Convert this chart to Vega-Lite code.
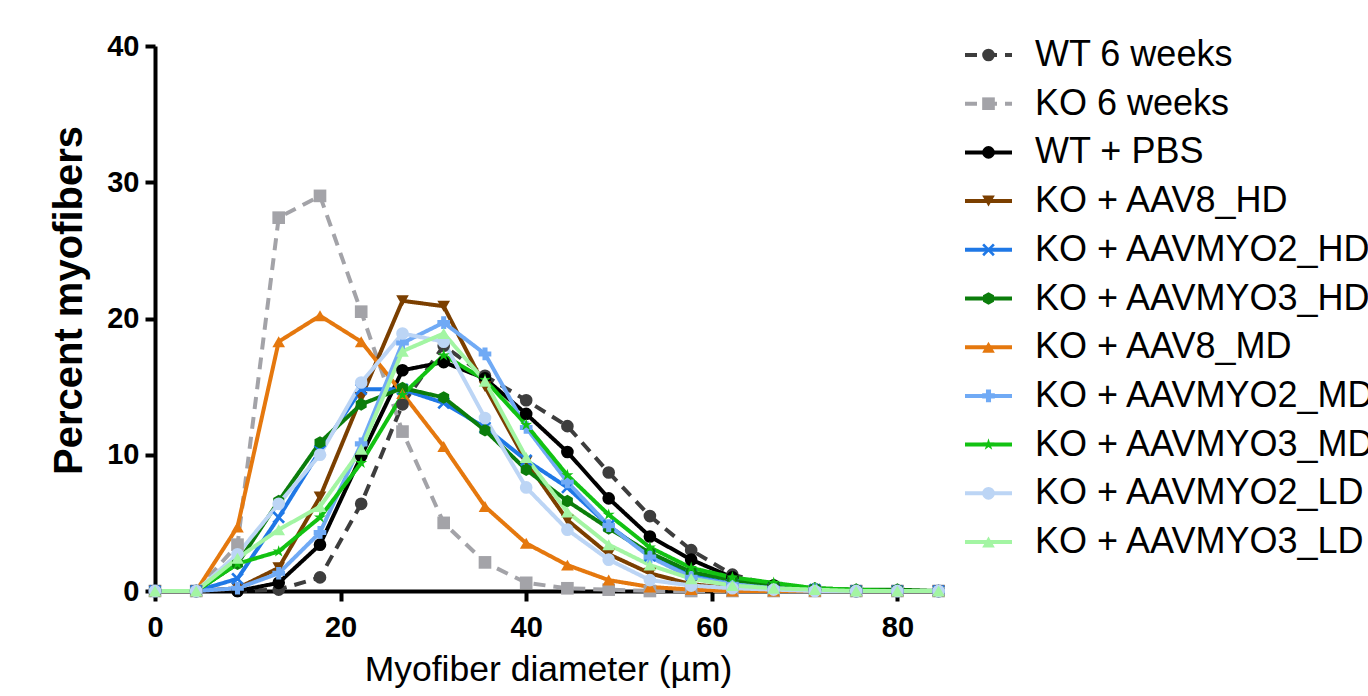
{
  "$schema": "https://vega.github.io/schema/vega-lite/v6.json",
  "width": 786,
  "height": 545,
  "autosize": {"type": "none"},
  "padding": {"left": 155, "top": 46, "right": 427, "bottom": 105},
  "background": "white",
  "config": {
    "view": {"stroke": null},
    "font": "Liberation Sans",
    "axis": {
      "grid": false,
      "domainColor": "black",
      "domainWidth": 4,
      "tickColor": "black",
      "tickWidth": 4,
      "tickSize": 10,
      "labelFlush": false,
      "labelFont": "Liberation Sans",
      "labelFontSize": 29,
      "labelFontWeight": "bold",
      "labelColor": "black",
      "titleFont": "Liberation Sans",
      "titleColor": "black"
    }
  },
  "data": {
    "values": [
      {"x": 0, "WT 6 weeks": 0, "KO 6 weeks": 0, "WT + PBS": 0, "KO + AAV8_HD": 0, "KO + AAVMYO2_HD": 0, "KO + AAVMYO3_HD": 0, "KO + AAV8_MD": 0, "KO + AAVMYO2_MD": 0, "KO + AAVMYO3_MD": 0, "KO + AAVMYO2_LD": 0, "KO + AAVMYO3_LD": 0},
      {"x": 4.44, "WT 6 weeks": 0, "KO 6 weeks": 0, "WT + PBS": 0, "KO + AAV8_HD": 0, "KO + AAVMYO2_HD": 0, "KO + AAVMYO3_HD": 0, "KO + AAV8_MD": 0, "KO + AAVMYO2_MD": 0, "KO + AAVMYO3_MD": 0, "KO + AAVMYO2_LD": 0, "KO + AAVMYO3_LD": 0},
      {"x": 8.89, "WT 6 weeks": 0, "KO 6 weeks": 3.4, "WT + PBS": 0, "KO + AAV8_HD": 0.2, "KO + AAVMYO2_HD": 0.9, "KO + AAVMYO3_HD": 2.0, "KO + AAV8_MD": 4.7, "KO + AAVMYO2_MD": 0.2, "KO + AAVMYO3_MD": 2.0, "KO + AAVMYO2_LD": 2.7, "KO + AAVMYO3_LD": 2.4},
      {"x": 13.33, "WT 6 weeks": 0.1, "KO 6 weeks": 27.4, "WT + PBS": 0.6, "KO + AAV8_HD": 1.7, "KO + AAVMYO2_HD": 5.4, "KO + AAVMYO3_HD": 6.6, "KO + AAV8_MD": 18.3, "KO + AAVMYO2_MD": 1.3, "KO + AAVMYO3_MD": 2.9, "KO + AAVMYO2_LD": 6.4, "KO + AAVMYO3_LD": 4.5},
      {"x": 17.78, "WT 6 weeks": 1.0, "KO 6 weeks": 29.0, "WT + PBS": 3.4, "KO + AAV8_HD": 6.9, "KO + AAVMYO2_HD": 10.3, "KO + AAVMYO3_HD": 10.9, "KO + AAV8_MD": 20.2, "KO + AAVMYO2_MD": 4.3, "KO + AAVMYO3_MD": 5.4, "KO + AAVMYO2_LD": 10.0, "KO + AAVMYO3_LD": 6.2},
      {"x": 22.22, "WT 6 weeks": 6.4, "KO 6 weeks": 20.5, "WT + PBS": 9.9, "KO + AAV8_HD": 14.2, "KO + AAVMYO2_HD": 14.8, "KO + AAVMYO3_HD": 13.7, "KO + AAV8_MD": 18.3, "KO + AAVMYO2_MD": 10.8, "KO + AAVMYO3_MD": 9.4, "KO + AAVMYO2_LD": 15.3, "KO + AAVMYO3_LD": 10.4},
      {"x": 26.67, "WT 6 weeks": 13.7, "KO 6 weeks": 11.7, "WT + PBS": 16.2, "KO + AAV8_HD": 21.3, "KO + AAVMYO2_HD": 14.8, "KO + AAVMYO3_HD": 14.9, "KO + AAV8_MD": 14.5, "KO + AAVMYO2_MD": 18.2, "KO + AAVMYO3_MD": 14.4, "KO + AAVMYO2_LD": 18.9, "KO + AAVMYO3_LD": 17.6},
      {"x": 31.11, "WT 6 weeks": 18.0, "KO 6 weeks": 5.0, "WT + PBS": 16.8, "KO + AAV8_HD": 20.9, "KO + AAVMYO2_HD": 13.8, "KO + AAVMYO3_HD": 14.2, "KO + AAV8_MD": 10.6, "KO + AAVMYO2_MD": 19.7, "KO + AAVMYO3_MD": 17.3, "KO + AAVMYO2_LD": 18.3, "KO + AAVMYO3_LD": 18.9},
      {"x": 35.56, "WT 6 weeks": 15.8, "KO 6 weeks": 2.1, "WT + PBS": 15.6, "KO + AAV8_HD": 15.0, "KO + AAVMYO2_HD": 12.0, "KO + AAVMYO3_HD": 11.8, "KO + AAV8_MD": 6.2, "KO + AAVMYO2_MD": 17.4, "KO + AAVMYO3_MD": 15.5, "KO + AAVMYO2_LD": 12.7, "KO + AAVMYO3_LD": 15.4},
      {"x": 40, "WT 6 weeks": 14.0, "KO 6 weeks": 0.6, "WT + PBS": 13.0, "KO + AAV8_HD": 9.5, "KO + AAVMYO2_HD": 9.6, "KO + AAVMYO3_HD": 8.9, "KO + AAV8_MD": 3.5, "KO + AAVMYO2_MD": 12.0, "KO + AAVMYO3_MD": 12.2, "KO + AAVMYO2_LD": 7.6, "KO + AAVMYO3_LD": 9.8},
      {"x": 44.44, "WT 6 weeks": 12.1, "KO 6 weeks": 0.2, "WT + PBS": 10.2, "KO + AAV8_HD": 5.2, "KO + AAVMYO2_HD": 7.6, "KO + AAVMYO3_HD": 6.6, "KO + AAV8_MD": 1.9, "KO + AAVMYO2_MD": 8.0, "KO + AAVMYO3_MD": 8.5, "KO + AAVMYO2_LD": 4.5, "KO + AAVMYO3_LD": 5.8},
      {"x": 48.89, "WT 6 weeks": 8.7, "KO 6 weeks": 0.1, "WT + PBS": 6.8, "KO + AAV8_HD": 2.7, "KO + AAVMYO2_HD": 4.8, "KO + AAVMYO3_HD": 4.6, "KO + AAV8_MD": 0.8, "KO + AAVMYO2_MD": 4.8, "KO + AAVMYO3_MD": 5.6, "KO + AAVMYO2_LD": 2.3, "KO + AAVMYO3_LD": 3.4},
      {"x": 53.33, "WT 6 weeks": 5.5, "KO 6 weeks": 0, "WT + PBS": 4.0, "KO + AAV8_HD": 1.3, "KO + AAVMYO2_HD": 2.6, "KO + AAVMYO3_HD": 2.8, "KO + AAV8_MD": 0.3, "KO + AAVMYO2_MD": 2.5, "KO + AAVMYO3_MD": 3.2, "KO + AAVMYO2_LD": 0.8, "KO + AAVMYO3_LD": 1.9},
      {"x": 57.78, "WT 6 weeks": 3.0, "KO 6 weeks": 0, "WT + PBS": 2.3, "KO + AAV8_HD": 0.5, "KO + AAVMYO2_HD": 1.2, "KO + AAVMYO3_HD": 1.4, "KO + AAV8_MD": 0.1, "KO + AAVMYO2_MD": 1.0, "KO + AAVMYO3_MD": 1.7, "KO + AAVMYO2_LD": 0.4, "KO + AAVMYO3_LD": 0.9},
      {"x": 62.22, "WT 6 weeks": 1.2, "KO 6 weeks": 0, "WT + PBS": 1.0, "KO + AAV8_HD": 0.2, "KO + AAVMYO2_HD": 0.5, "KO + AAVMYO3_HD": 0.8, "KO + AAV8_MD": 0, "KO + AAVMYO2_MD": 0.5, "KO + AAVMYO3_MD": 1.0, "KO + AAVMYO2_LD": 0.2, "KO + AAVMYO3_LD": 0.4},
      {"x": 66.67, "WT 6 weeks": 0.4, "KO 6 weeks": 0, "WT + PBS": 0.4, "KO + AAV8_HD": 0.1, "KO + AAVMYO2_HD": 0.2, "KO + AAVMYO3_HD": 0.4, "KO + AAV8_MD": 0, "KO + AAVMYO2_MD": 0.2, "KO + AAVMYO3_MD": 0.6, "KO + AAVMYO2_LD": 0.1, "KO + AAVMYO3_LD": 0.2},
      {"x": 71.11, "WT 6 weeks": 0.1, "KO 6 weeks": 0, "WT + PBS": 0.1, "KO + AAV8_HD": 0, "KO + AAVMYO2_HD": 0.1, "KO + AAVMYO3_HD": 0.2, "KO + AAV8_MD": 0, "KO + AAVMYO2_MD": 0.1, "KO + AAVMYO3_MD": 0.2, "KO + AAVMYO2_LD": 0, "KO + AAVMYO3_LD": 0.1},
      {"x": 75.56, "WT 6 weeks": 0, "KO 6 weeks": 0, "WT + PBS": 0, "KO + AAV8_HD": 0, "KO + AAVMYO2_HD": 0, "KO + AAVMYO3_HD": 0.1, "KO + AAV8_MD": 0, "KO + AAVMYO2_MD": 0, "KO + AAVMYO3_MD": 0.1, "KO + AAVMYO2_LD": 0, "KO + AAVMYO3_LD": 0},
      {"x": 80, "WT 6 weeks": 0, "KO 6 weeks": 0, "WT + PBS": 0, "KO + AAV8_HD": 0, "KO + AAVMYO2_HD": 0, "KO + AAVMYO3_HD": 0.1, "KO + AAV8_MD": 0, "KO + AAVMYO2_MD": 0, "KO + AAVMYO3_MD": 0, "KO + AAVMYO2_LD": 0, "KO + AAVMYO3_LD": 0},
      {"x": 84.44, "WT 6 weeks": 0, "KO 6 weeks": 0, "WT + PBS": 0, "KO + AAV8_HD": 0, "KO + AAVMYO2_HD": 0, "KO + AAVMYO3_HD": 0, "KO + AAV8_MD": 0, "KO + AAVMYO2_MD": 0, "KO + AAVMYO3_MD": 0, "KO + AAVMYO2_LD": 0, "KO + AAVMYO3_LD": 0}
    ]
  },
  "transform": [
    {"fold": ["WT 6 weeks", "KO 6 weeks", "WT + PBS", "KO + AAV8_HD", "KO + AAVMYO2_HD", "KO + AAVMYO3_HD", "KO + AAV8_MD", "KO + AAVMYO2_MD", "KO + AAVMYO3_MD", "KO + AAVMYO2_LD", "KO + AAVMYO3_LD"], "as": ["series", "pct"]}
  ],
  "resolve": {"scale": {"x": "independent", "y": "independent"}, "axis": {"x": "independent", "y": "independent"}},
  "layer": [
    {
      "encoding": {
        "x": {
          "field": "x",
          "type": "quantitative",
          "scale": {"domain": [0, 84.7], "nice": false},
          "axis": {
            "values": [0, 20, 40, 60, 80],
            "title": "Myofiber diameter (µm)",
            "titleFontSize": 35.5,
            "titleFontWeight": "normal",
            "labelPadding": 12,
            "titlePadding": 10
          }
        },
        "y": {
          "field": "pct",
          "type": "quantitative",
          "scale": {"domain": [0, 40], "nice": false},
          "axis": {
            "values": [0, 10, 20, 30, 40],
            "title": "Percent myofibers",
            "titleFontSize": 40,
            "titleFontWeight": "bold",
            "labelPadding": 6,
            "titlePadding": 17,
            "titleY": 254
          }
        },
        "color": {
          "field": "series",
          "type": "nominal",
          "scale": {
            "domain": ["WT 6 weeks", "KO 6 weeks", "WT + PBS", "KO + AAV8_HD", "KO + AAVMYO2_HD", "KO + AAVMYO3_HD", "KO + AAV8_MD", "KO + AAVMYO2_MD", "KO + AAVMYO3_MD", "KO + AAVMYO2_LD", "KO + AAVMYO3_LD"],
            "range": ["#3d3d3d", "#a3a3a8", "#000000", "#7b3f00", "#1f78e6", "#0b7d0b", "#e5780e", "#70aaf5", "#12c212", "#bcd5f5", "#a3f5a3"]
          },
          "legend": null
        }
      },
      "layer": [
        {
          "mark": {"type": "line", "strokeWidth": 4},
          "encoding": {
            "strokeDash": {
              "field": "series",
              "type": "nominal",
              "scale": {
                "domain": ["WT 6 weeks", "KO 6 weeks", "WT + PBS", "KO + AAV8_HD", "KO + AAVMYO2_HD", "KO + AAVMYO3_HD", "KO + AAV8_MD", "KO + AAVMYO2_MD", "KO + AAVMYO3_MD", "KO + AAVMYO2_LD", "KO + AAVMYO3_LD"],
                "range": [[12, 8], [12, 8], [1, 0], [1, 0], [1, 0], [1, 0], [1, 0], [1, 0], [1, 0], [1, 0], [1, 0]]
              },
              "legend": null
            }
          }
        },
        {
          "mark": {"type": "point", "filled": true, "opacity": 1, "size": 160},
          "encoding": {
            "shape": {
              "field": "series",
              "type": "nominal",
              "scale": {
                "domain": ["WT 6 weeks", "KO 6 weeks", "WT + PBS", "KO + AAV8_HD", "KO + AAVMYO2_HD", "KO + AAVMYO3_HD", "KO + AAV8_MD", "KO + AAVMYO2_MD", "KO + AAVMYO3_MD", "KO + AAVMYO2_LD", "KO + AAVMYO3_LD"],
                "range": ["circle", "square", "circle", "triangle-down", "M-1,-0.7L-0.7,-1L0,-0.3L0.7,-1L1,-0.7L0.3,0L1,0.7L0.7,1L0,0.3L-0.7,1L-1,0.7L-0.3,0Z", "M0,-1L0.866,-0.5L0.866,0.5L0,1L-0.866,0.5L-0.866,-0.5Z", "triangle-up", "cross", "M0,-1L0.22,-0.3L0.95,-0.31L0.36,0.12L0.59,0.81L0,0.38L-0.59,0.81L-0.36,0.12L-0.95,-0.31L-0.22,-0.3Z", "circle", "triangle-up"]
              },
              "legend": null
            }
          }
        }
      ]
    },
    {
      "transform": [{"filter": "datum.x === 0"}],
      "encoding": {
        "y": {
          "field": "series",
          "type": "nominal",
          "scale": {
            "type": "point",
            "domain": ["WT 6 weeks", "KO 6 weeks", "WT + PBS", "KO + AAV8_HD", "KO + AAVMYO2_HD", "KO + AAVMYO3_HD", "KO + AAV8_MD", "KO + AAVMYO2_MD", "KO + AAVMYO3_MD", "KO + AAVMYO2_LD", "KO + AAVMYO3_LD"],
            "range": [9, 496],
            "padding": 0
          },
          "axis": null
        }
      },
      "layer": [
        {
          "mark": {"type": "rule", "strokeWidth": 4},
          "encoding": {
            "x": {"datum": 0, "type": "quantitative", "scale": {"domain": [0, 1], "range": [810, 857]}, "axis": null},
            "x2": {"datum": 1},
            "color": {
              "field": "series",
              "type": "nominal",
              "scale": {
                "domain": ["WT 6 weeks", "KO 6 weeks", "WT + PBS", "KO + AAV8_HD", "KO + AAVMYO2_HD", "KO + AAVMYO3_HD", "KO + AAV8_MD", "KO + AAVMYO2_MD", "KO + AAVMYO3_MD", "KO + AAVMYO2_LD", "KO + AAVMYO3_LD"],
                "range": ["#3d3d3d", "#a3a3a8", "#000000", "#7b3f00", "#1f78e6", "#0b7d0b", "#e5780e", "#70aaf5", "#12c212", "#bcd5f5", "#a3f5a3"]
              },
              "legend": null
            },
            "strokeDash": {
              "field": "series",
              "type": "nominal",
              "scale": {
                "domain": ["WT 6 weeks", "KO 6 weeks", "WT + PBS", "KO + AAV8_HD", "KO + AAVMYO2_HD", "KO + AAVMYO3_HD", "KO + AAV8_MD", "KO + AAVMYO2_MD", "KO + AAVMYO3_MD", "KO + AAVMYO2_LD", "KO + AAVMYO3_LD"],
                "range": [[12, 8], [12, 8], [1, 0], [1, 0], [1, 0], [1, 0], [1, 0], [1, 0], [1, 0], [1, 0], [1, 0]]
              },
              "legend": null
            }
          }
        },
        {
          "mark": {"type": "point", "filled": true, "opacity": 1, "size": 160},
          "encoding": {
            "x": {"datum": 0.5, "type": "quantitative", "scale": {"domain": [0, 1], "range": [810, 857]}, "axis": null},
            "color": {
              "field": "series",
              "type": "nominal",
              "scale": {
                "domain": ["WT 6 weeks", "KO 6 weeks", "WT + PBS", "KO + AAV8_HD", "KO + AAVMYO2_HD", "KO + AAVMYO3_HD", "KO + AAV8_MD", "KO + AAVMYO2_MD", "KO + AAVMYO3_MD", "KO + AAVMYO2_LD", "KO + AAVMYO3_LD"],
                "range": ["#3d3d3d", "#a3a3a8", "#000000", "#7b3f00", "#1f78e6", "#0b7d0b", "#e5780e", "#70aaf5", "#12c212", "#bcd5f5", "#a3f5a3"]
              },
              "legend": null
            },
            "shape": {
              "field": "series",
              "type": "nominal",
              "scale": {
                "domain": ["WT 6 weeks", "KO 6 weeks", "WT + PBS", "KO + AAV8_HD", "KO + AAVMYO2_HD", "KO + AAVMYO3_HD", "KO + AAV8_MD", "KO + AAVMYO2_MD", "KO + AAVMYO3_MD", "KO + AAVMYO2_LD", "KO + AAVMYO3_LD"],
                "range": ["circle", "square", "circle", "triangle-down", "M-1,-0.7L-0.7,-1L0,-0.3L0.7,-1L1,-0.7L0.3,0L1,0.7L0.7,1L0,0.3L-0.7,1L-1,0.7L-0.3,0Z", "M0,-1L0.866,-0.5L0.866,0.5L0,1L-0.866,0.5L-0.866,-0.5Z", "triangle-up", "cross", "M0,-1L0.22,-0.3L0.95,-0.31L0.36,0.12L0.59,0.81L0,0.38L-0.59,0.81L-0.36,0.12L-0.95,-0.31L-0.22,-0.3Z", "circle", "triangle-up"]
              },
              "legend": null
            }
          }
        },
        {
          "mark": {"type": "text", "align": "left", "baseline": "middle", "font": "Liberation Sans", "fontSize": 36, "color": "black"},
          "encoding": {
            "x": {"datum": 1.49, "type": "quantitative", "scale": {"domain": [0, 1], "range": [810, 857]}, "axis": null},
            "text": {"field": "series", "type": "nominal"}
          }
        }
      ]
    }
  ]
}
